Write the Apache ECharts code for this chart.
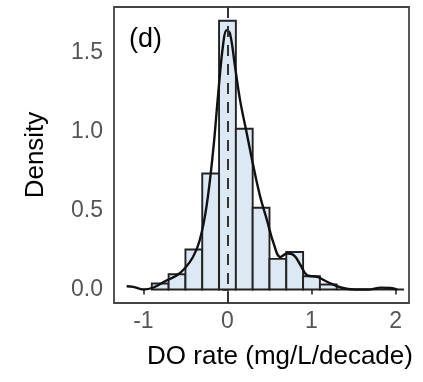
<!DOCTYPE html>
<html><head><meta charset="utf-8">
<script src="https://cdn.jsdelivr.net/npm/echarts@6/dist/echarts.min.js"></script>
<style>html,body{margin:0;padding:0;background:#fff}#c{width:423px;height:382px}</style>
</head><body><div id="c"></div>
<script>
// Histogram bins (left edges), bin width 0.2
var binStarts = [-0.9,-0.7,-0.5,-0.3,-0.1,0.1,0.3,0.5,0.7,0.9,1.1,1.3,1.5,1.7,1.9];
var binDensity = [0.038,0.097,0.253,0.734,1.70,1.017,0.517,0.194,0.238,0.084,0.032,0,0,0,0];
var binWidth = 0.2;
// Density curve points
var densX = [-1.2,-1.12,-1.0,-0.88,-0.72,-0.6,-0.51,-0.41,-0.33,-0.25,-0.17,-0.11,-0.05,-0.01,0.03,0.09,0.15,0.23,0.31,0.39,0.47,0.55,0.63,0.71,0.79,0.87,0.95,1.07,1.19,1.35,1.51,1.67,1.83,1.94,2.02];
var densY = [0.021,0.017,0.0,0.013,0.059,0.09,0.133,0.206,0.312,0.523,0.88,1.24,1.557,1.64,1.62,1.41,1.198,0.987,0.776,0.586,0.439,0.291,0.206,0.228,0.217,0.154,0.09,0.08,0.048,0.013,0.0,0.0,0.012,0.01,0.0];
var xTicks = [-1,0,1,2];
var yTicks = [0,0.5,1.0,1.5];

var histData = binStarts.map(function(s,i){return [s, s+binWidth, binDensity[i]];});
var densData = densX.map(function(x,i){return [x, densY[i]];});

var chart = echarts.init(document.getElementById('c'));
chart.setOption({
  animation:false,
  title:{text:'(d)', left:124, top:21, textStyle:{fontFamily:'Liberation Sans, Arial', fontSize:27, fontWeight:'normal', color:'#000'}},
  grid:{left:114, right:14, top:7, bottom:79, show:true, borderColor:'#444', borderWidth:1.8, backgroundColor:'#fff'},
  xAxis:{type:'value', min:-1.35, max:2.16,
    name:'DO rate (mg/L/decade)', nameLocation:'middle', nameGap:41,
    nameTextStyle:{fontFamily:'Liberation Sans, Arial', fontSize:26, color:'#000', padding:[0,0,0,37]},
    axisLine:{show:false}, splitLine:{show:false},
    axisTick:{show:true, length:5, customValues:xTicks, lineStyle:{color:'#444', width:1.8}},
    axisLabel:{customValues:xTicks, margin:7, fontFamily:'Liberation Sans, Arial', fontSize:23, color:'#555'}
  },
  yAxis:{type:'value', min:-0.085, max:1.787,
    name:'Density', nameLocation:'middle', nameGap:65,
    nameTextStyle:{fontFamily:'Liberation Sans, Arial', fontSize:26, color:'#000'},
    axisLine:{show:false}, splitLine:{show:false},
    axisTick:{show:true, length:5, customValues:yTicks, lineStyle:{color:'#444', width:1.8}},
    axisLabel:{customValues:yTicks, margin:11, fontFamily:'Liberation Sans, Arial', fontSize:23, color:'#555',
      formatter:function(v){return v.toFixed(1);}}
  },
  series:[
    {type:'custom', data:histData, z:2,
      renderItem:function(params, api){
        var p0 = api.coord([api.value(0), api.value(2)]);
        var p1 = api.coord([api.value(1), 0]);
        return {type:'rect', shape:{x:p0[0], y:p0[1], width:p1[0]-p0[0], height:p1[1]-p0[1]},
          style:{fill:'#dce9f4', stroke:'#222', lineWidth:1.9}};
      }
    },
    {type:'line', data:densData, smooth:0.4, showSymbol:false, z:4,
      lineStyle:{color:'#111', width:2.4}},
    {type:'line', data:[], z:5,
      markLine:{symbol:'none', silent:true, label:{show:false},
        lineStyle:{color:'#333', type:[11,8], width:2},
        data:[{xAxis:0}]}}
  ]
});
</script></body></html>
